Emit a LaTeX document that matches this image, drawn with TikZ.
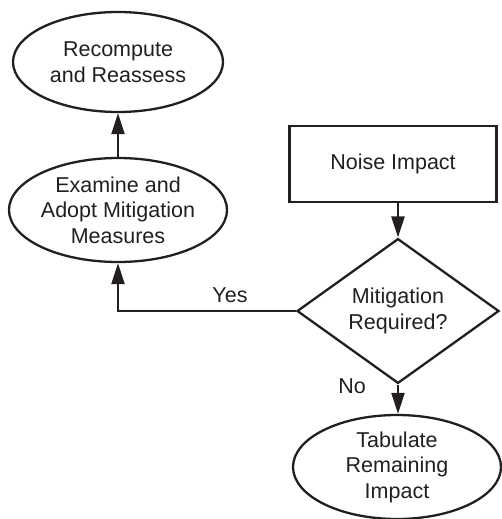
\documentclass[tikz,border=0pt]{standalone}
\usepackage{fontspec}
\setmainfont{Liberation Sans}
\usetikzlibrary{arrows.meta,shapes.geometric}
\definecolor{ink}{HTML}{231F20}
\begin{document}
\begin{tikzpicture}[x=1pt,y=-1pt,
  every node/.style={text=ink,font=\fontsize{21.5}{25.5}\selectfont,align=center,inner sep=0pt},
  oval/.style={ellipse,draw=ink,line width=2.3pt},
  box/.style={rectangle,draw=ink,line width=2.3pt},
  decision/.style={diamond,draw=ink,line width=2.3pt},
  arr/.style={draw=ink,line width=2.3pt,-{Triangle[length=21pt,width=13pt]}},
  lbl/.style={font=\fontsize{21.5}{25}\selectfont}]
\useasboundingbox (0,0) rectangle (502,519);
\node[oval,minimum width=210pt,minimum height=100pt] (rec) at (118,62) {Recompute\\and Reassess};
\node[oval,minimum width=214pt,minimum height=104pt] (exa) at (118,210) {Examine and\\Adopt Mitigation\\Measures};
\node[box,minimum width=207pt,minimum height=76pt] (noise) at (393,164) {Noise Impact};
\node[decision,minimum width=202pt,minimum height=124pt] (dec) at (398,311) {Mitigation\\Required?};
\node[oval,minimum width=208pt,minimum height=104pt] (tab) at (397,467) {Tabulate\\Remaining\\Impact};
\draw[arr] (exa.north) -- (rec.south);
\draw[arr] (noise.south -| dec.north) -- (dec.north);
\draw[arr] (dec.south) -- (dec.south |- tab.north);
\draw[arr] (dec.west) -| (exa.south);
\node[lbl] (yes) at (230,295) {Yes};
\node[lbl] (no) at (352,386) {No};
\end{tikzpicture}
\end{document}
